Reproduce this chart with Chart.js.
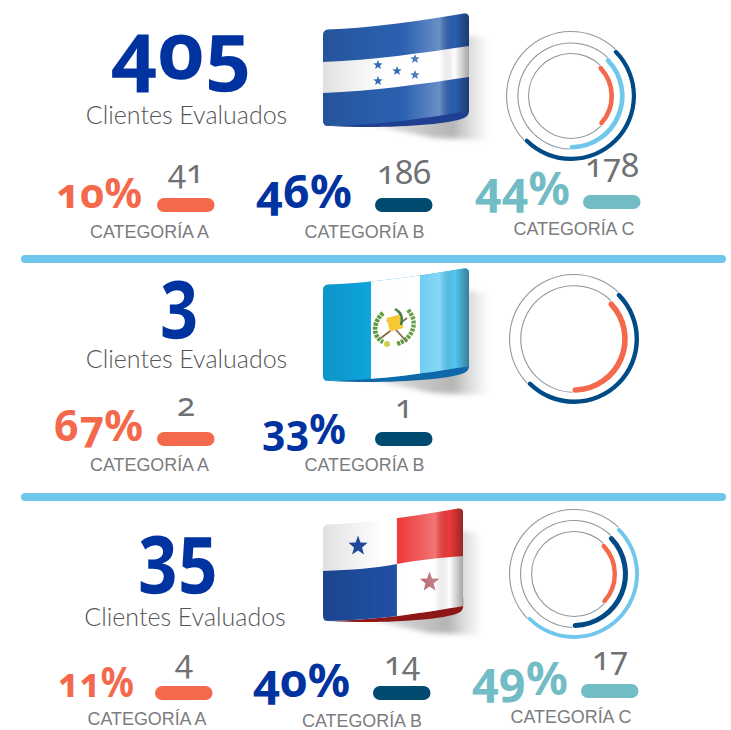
<!DOCTYPE html>
<html lang="es">
<head>
<meta charset="utf-8">
<title>Clientes Evaluados</title>
<script src="https://cdn.jsdelivr.net/npm/chart.js@4"></script>
<style>
  @font-face { font-family: "NotoBig"; src: local("Noto Sans Bold"), local("NotoSans-Bold"); font-weight: 700; ascent-override: 85%; descent-override: 25%; }
  html, body { margin: 0; padding: 0; background: #fff; overflow: hidden; }
  #page { position: relative; width: 731px; height: 730px; }
  #art { position: absolute; left: 0; top: 0; }
  canvas { position: absolute; }
  .big { position: absolute; width: 200px; height: 60px; line-height: 60px; text-align: center; color: #0033a0;
         font-family: "NotoBig", "Noto Sans"; font-weight: 700; font-size: 80px; font-feature-settings: "onum" 1; }
  .pct { font-family: "Noto Sans"; font-weight: 700; font-feature-settings: "onum" 1; }
  .sub { font-family: Lato; font-weight: 300; font-size: 25px; fill: #55565a; }
  .num { font-family: "Noto Sans"; font-weight: 400; font-size: 33px; fill: #707174; font-feature-settings: "onum" 1; }
  .cat { font-family: "Liberation Sans"; font-size: 17.9px; fill: #7b7c7f; }
</style>
</head>
<body>
<div id="page">
  <svg id="art" width="731" height="730" xmlns="http://www.w3.org/2000/svg"></svg>
  <canvas id="ringHonduras" width="140" height="140" style="left:501px;top:26px"></canvas>
  <canvas id="ringGuatemala" width="140" height="140" style="left:504px;top:269px"></canvas>
  <canvas id="ringPanama" width="140" height="140" style="left:504px;top:504px"></canvas>
</div>
<script>
var categories = ["CATEGORÍA A", "CATEGORÍA B", "CATEGORÍA C"];
var subtitle = "Clientes Evaluados";

var clients = [405, 3, 35];

var hondurasPct = [10, 46, 44];
var hondurasCount = [41, 186, 178];
var guatemalaPct = [67, 33];
var guatemalaCount = [2, 1];
var panamaPct = [11, 40, 49];
var panamaCount = [4, 14, 17];

// the arcs in the picture are not to scale with the percentages, so these are
// read off the rings themselves, as a share of the full circle, outer ring first
var hondurasRing = [50.8, 38.3, 25.3];
var guatemalaRing = [50.8, 38.3];
var panamaRing = [50.8, 38.3, 25.3];

var orange = "#f4694c", navy = "#004a86", sky = "#70c6ec", grey = "#8f9a9e";
var startAngle = 43.7;

function makeRing(id, values, colors, radii, widths) {
  var datasets = values.map(function (v, i) {
    return {
      data: [v, 100 - v],
      backgroundColor: [colors[i], grey],
      borderWidth: 0,
      borderRadius: function (c) { return c.dataIndex === 0 ? 3 : 0; }
    };
  });
  new Chart(document.getElementById(id), {
    type: "doughnut",
    data: { labels: ["valor", "resto"], datasets: datasets },
    options: {
      responsive: false,
      animation: false,
      rotation: startAngle,
      plugins: { legend: { display: false }, tooltip: { enabled: false } }
    },
    plugins: [{
      // thick arc and hairline share a ring, so set the radii by hand
      id: "hairline",
      afterDatasetsUpdate: function (chart) {
        chart.data.datasets.forEach(function (d, i) {
          var arcs = chart.getDatasetMeta(i).data;
          arcs[0].outerRadius = radii[i];
          arcs[0].innerRadius = radii[i] - widths[i];
          arcs[1].outerRadius = radii[i];
          arcs[1].innerRadius = radii[i] - 1.1;
        });
      }
    }]
  });
}

makeRing("ringHonduras", hondurasRing, [navy, sky, orange], [65, 53.6, 43], [4.2, 4.6, 4.6]);
makeRing("ringGuatemala", guatemalaRing, [navy, orange], [65, 53.8], [4.4, 5.6]);
makeRing("ringPanama", panamaRing, [sky, navy, orange], [65, 54, 43], [3.9, 5, 4.4]);

// ---- everything round the rings
var svg = document.getElementById("art");
var out = [];

function text(cls, x, y, str, extra) {
  out.push('<text class="' + cls + '" x="' + x + '" y="' + y + '" text-anchor="middle" ' + (extra || "") + ">" + str + "</text>");
}
function pill(x, y, w, color) {
  out.push('<rect x="' + x + '" y="' + y + '" width="' + w + '" height="14" rx="7" fill="' + color + '"/>');
}
function star(cx, cy, r, fill) {
  var p = [];
  for (var i = 0; i < 10; i++) {
    var a = -Math.PI / 2 + i * Math.PI / 5, q = i % 2 ? r * 0.42 : r;
    p.push((cx + q * Math.cos(a)).toFixed(1) + "," + (cy + q * Math.sin(a)).toFixed(1));
  }
  return '<polygon points="' + p.join(" ") + '" fill="' + fill + '"/>';
}

var shape = "M0,22 Q0,17 5,16.5 C47,15 97,8 141,0.5 Q146,0 146,5 L146,98 C110,104 60,112 5,113 Q0,113 0,108 Z";

out.push('<defs>' +
  '<clipPath id="flagClip"><path d="' + shape + '"/></clipPath>' +
  '<linearGradient id="sheen" x1="0" x2="1" y1="0" y2="0">' +
    '<stop offset="0" stop-color="#000" stop-opacity=".12"/>' +
    '<stop offset=".42" stop-color="#000" stop-opacity="0"/>' +
    '<stop offset=".56" stop-color="#fff" stop-opacity=".02"/>' +
    '<stop offset=".8" stop-color="#fff" stop-opacity=".3"/>' +
    '<stop offset=".9" stop-color="#000" stop-opacity="0"/>' +
    '<stop offset="1" stop-color="#000" stop-opacity=".36"/>' +
  '</linearGradient>' +
  '<linearGradient id="shade" x1="0" x2="1" y1="0" y2="0">' +
    '<stop offset="0" stop-color="#888" stop-opacity=".2"/>' +
    '<stop offset=".72" stop-color="#777" stop-opacity=".55"/>' +
    '<stop offset="1" stop-color="#aaa" stop-opacity=".05"/>' +
  '</linearGradient>' +
  '<filter id="soft" x="-20%" y="-20%" width="140%" height="140%"><feGaussianBlur stdDeviation="2.5"/></filter>' +
  '</defs>');

function flag(y, sx, fold, inner) {
  out.push('<g transform="translate(323,' + y + ') scale(' + sx + ',1)">' +
    '<path d="M40,110 L146,22 L165,26 L165,127 L110,125 Z" fill="url(#shade)" filter="url(#soft)"/>' +
    '<path d="M8,113 C60,116 125,112 141,105 Q146,103 146,98 L146,90 L60,108 Z" fill="' + fold + '"/>' +
    '<g clip-path="url(#flagClip)">' + inner +
    '<rect x="0" y="0" width="146" height="114" fill="url(#sheen)"/></g>' +
    '</g>');
}

// Honduras
flag(13, 1, "#1f3f90",
  '<rect width="146" height="114" fill="#2a5fae"/>' +
  '<path d="M0,49 C50,47 100,40 146,33 L146,64 C100,71 50,78 0,80 Z" fill="#fff"/>' +
  star(55, 52, 5, "#2f6db5") + star(92, 46, 5, "#2f6db5") + star(74, 58, 5, "#2f6db5") +
  star(55, 68, 5, "#2f6db5") + star(92, 62, 5, "#2f6db5"));

// Guatemala
flag(268, 1, "#0f68a8",
  '<rect width="146" height="114" fill="#0fa9e2"/>' +
  '<rect x="48" width="49" height="114" fill="#fff"/>' +
  '<rect x="97" width="49" height="114" fill="#55c6f2"/>' +
  '<path d="M60,45 C50,54 49,68 60,74" fill="none" stroke="#5d9a3c" stroke-width="4.5" stroke-dasharray="3 1"/>' +
  '<path d="M85,42 C95,52 92,70 74,76" fill="none" stroke="#5d9a3c" stroke-width="4.5" stroke-dasharray="3 1"/>' +
  '<path d="M58,70 L84,50 M84,74 L64,52" stroke="#8a6a4a" stroke-width="1.8"/>' +
  '<rect x="65" y="48" width="14" height="14" fill="#f7c935" transform="rotate(-14 72 55)"/>' +
  '<path d="M72,41 C78,44 80,50 78,57" fill="none" stroke="#3f7f4a" stroke-width="2.5"/>' +
  '<circle cx="64" cy="76" r="3" fill="#c9d34a"/>');

// Panama
flag(508, 0.96, "#8f1616",
  '<rect width="146" height="114" fill="#fff"/>' +
  '<path d="M77,0 L146,0 L146,48 C120,50 100,52 77,56 Z" fill="#ee3a3a"/>' +
  '<path d="M0,63 C30,62 55,60 77,56 L77,114 L0,114 Z" fill="#1f4ea1"/>' +
  star(36.5, 38, 10.5, "#1f4ea1") + star(111, 74, 10.5, "#a84a56"));

// dividers
out.push('<rect x="21" y="255" width="705" height="8" rx="4" fill="#6ec6ea"/>');
out.push('<rect x="21" y="493" width="705" height="8" rx="4" fill="#6ec6ea"/>');

// big totals sit in html boxes so they can be squeezed, the font is wider than the original
function bigNum(value, cx, baseline, squeeze) {
  var d = document.createElement("div");
  d.className = "big";
  d.textContent = value;
  d.style.left = (cx - 100) + "px";
  d.style.top = (baseline - 54) + "px";
  if (squeeze) d.style.transform = "scaleX(" + squeeze + ")";
  document.getElementById("page").appendChild(d);
}
bigNum(clients[0], 181, 79);
bigNum(clients[1], 180, 325.5, 0.83);
bigNum(clients[2], 178, 580.5, 0.86);

text("sub", 186.5, 124, subtitle);
text("sub", 186.5, 368, subtitle);
text("sub", 185, 626, subtitle);

var pctColors = ["#f4694c", "#0033a0", "#72bcc5"];
var pillColors = ["#f4694c", "#004a70", "#72bcc5"];

function row(pcts, counts, xs) {
  pcts.forEach(function (p, i) {
    var c = xs[i];
    text("pct", c.pct, c.pctY, p + "%", 'font-size="' + c.size + '" textLength="' + c.w + '" lengthAdjust="spacingAndGlyphs" fill="' + pctColors[i] + '"');
    text("num", c.pill + 29, c.numY, counts[i]);
    pill(c.pill, c.pillY, 57.5, pillColors[i]);
    text("cat", c.cat, c.catY, categories[i]);
  });
}

row(hondurasPct, hondurasCount, [
  { pct: 99, pctY: 208, size: 42, w: 86, pill: 157, pillY: 198, numY: 183, cat: 149.5, catY: 238 },
  { pct: 304, pctY: 208, size: 46, w: 96, pill: 375, pillY: 198, numY: 184, cat: 364.5, catY: 238 },
  { pct: 522.5, pctY: 205, size: 46, w: 95, pill: 583, pillY: 195, numY: 177, cat: 574, catY: 235 }
]);
row(guatemalaPct, guatemalaCount, [
  { pct: 98.5, pctY: 441, size: 43, w: 89, pill: 157, pillY: 432, numY: 416, cat: 149.5, catY: 471 },
  { pct: 304, pctY: 444, size: 42, w: 84, pill: 375, pillY: 432, numY: 418, cat: 364.5, catY: 471 }
]);
row(panamaPct, panamaCount, [
  { pct: 96, pctY: 697, size: 42, w: 76, pill: 155, pillY: 686, numY: 673, cat: 147, catY: 725 },
  { pct: 301.5, pctY: 697, size: 46, w: 97, pill: 373, pillY: 686, numY: 675, cat: 362, catY: 727 },
  { pct: 520, pctY: 695, size: 46, w: 96, pill: 581, pillY: 684, numY: 670, cat: 571, catY: 723 }
]);

svg.innerHTML = out.join("");
</script>
</body>
</html>
